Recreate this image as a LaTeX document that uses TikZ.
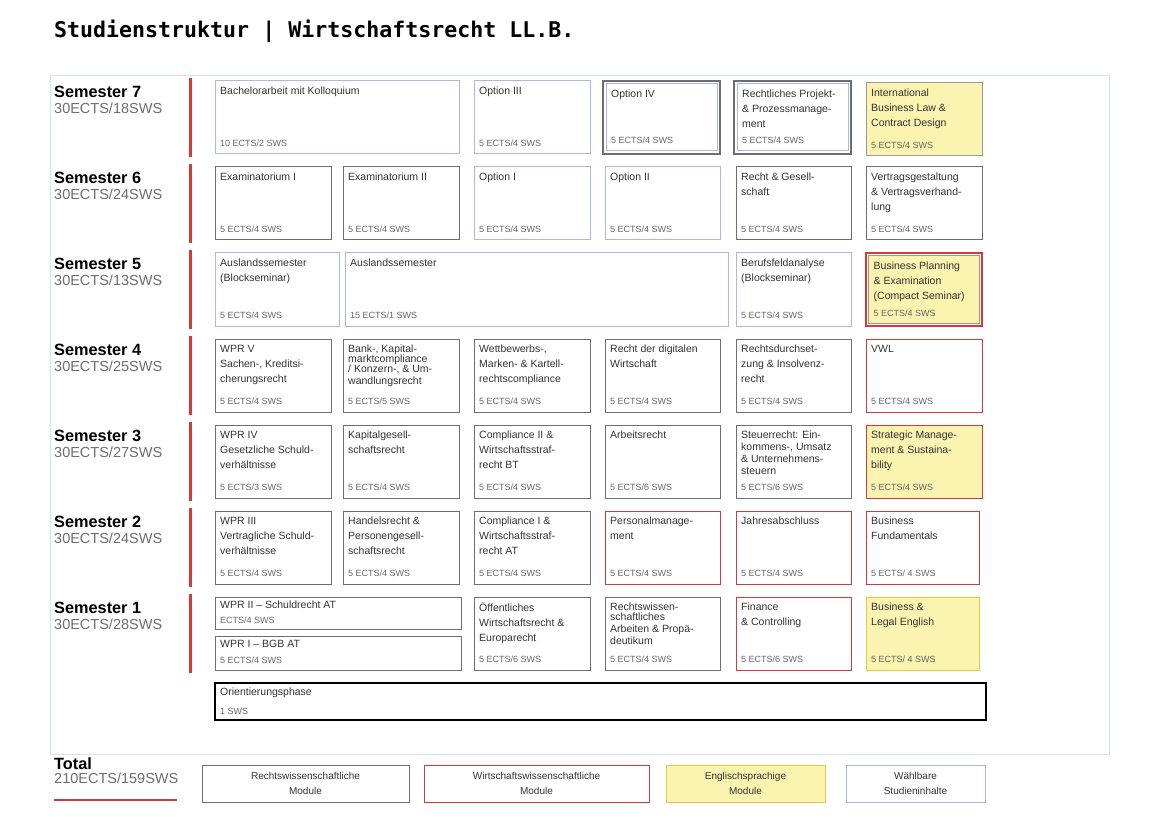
\documentclass[tikz,border=0pt]{standalone}
\usepackage{fontspec}
\setmainfont{Liberation Sans}
\newfontfamily\titlefont{DejaVu Sans Mono}
\definecolor{cgray}{HTML}{6E6E6E}
\definecolor{cblue}{HTML}{A9B8E6}
\definecolor{cred}{HTML}{D43A3A}
\definecolor{cyelf}{HTML}{FBF3B0}
\definecolor{cyelb}{HTML}{E6CC3A}
\definecolor{cframe}{HTML}{D6E2F2}
\definecolor{ctext}{HTML}{333333}
\definecolor{cects}{HTML}{666666}
\tikzset{
 gr/.style={draw=cgray,line width=1pt,fill=white},
 bl/.style={draw=cblue,line width=1pt,fill=white},
 rd/.style={draw=cred,line width=1pt,fill=white},
 rdy/.style={draw=cred,line width=1pt,fill=cyelf},
 gry/.style={draw=cgray!70,line width=1pt,fill=cyelf},
 yy/.style={draw=cyelb,line width=1pt,fill=cyelf},
 ttl/.style={anchor=north west,align=left,inner sep=0pt,font=\fontsize{10.5}{15}\selectfont,text=ctext},
 ects/.style={anchor=south west,inner sep=0pt,font=\fontsize{9}{11}\selectfont,text=cects},
 sem/.style={anchor=north west,inner sep=0pt,align=left,font=\fontsize{16.3}{17}\selectfont\bfseries},
 semsub/.style={anchor=north west,inner sep=0pt,font=\fontsize{14.5}{16}\selectfont,text=cgray},
 leg/.style={align=center,font=\fontsize{10}{15}\selectfont,text=ctext},
}
% \modbox{name}{x1}{y1}{x2}{y2}{style}{title}{ects}
\newcommand{\modbox}[8]{%
 \path[#6] (#2,#3) rectangle (#4,#5);
 \coordinate (#1) at (#2,#3);
 \node[ttl] (#1-t) at (#2+5,#3+6) {#7};
 \node[ects] (#1-e) at (#2+5,#5-7) {#8};
}
\begin{document}
\begin{tikzpicture}[x=1pt,y=-1pt]
\useasboundingbox[fill=white] (0,0) rectangle (1160,821);
\node[anchor=west,inner sep=0pt,font=\titlefont\bfseries\fontsize{21.6}{24}\selectfont] (title) at (54,31) {Studienstruktur | Wirtschaftsrecht LL.B.};
\draw[cframe,line width=1pt] (50,76) rectangle (1109,754);
% semester labels and red bars
\foreach \n/\y/\s in {7/81/18,6/167/24,5/253/13,4/339/25,3/425/27,2/511/24,1/597/28}{
 \node[sem] (s\n) at (54,\y+5) {Semester \n};
 \node[semsub] (ss\n) at (54,\y+22) {30ECTS/\s SWS};
 \fill[cred] (188.5,\y-3) rectangle (192,\y+76);
}
% Semester 7
\modbox{m71}{215}{81}{459}{154}{bl}{Bachelorarbeit mit Kolloquium}{10 ECTS/2 SWS}
\modbox{m73}{474}{81}{590}{154}{bl}{Option III}{5 ECTS/4 SWS}
\path[draw=cgray,line width=1.2pt] (603,81) rectangle (720,154);
\modbox{m74}{606}{84}{717}{151}{bl}{Option IV}{5 ECTS/4 SWS}
\path[draw=cgray,line width=1.2pt] (734,81) rectangle (851,154);
\modbox{m75}{737}{84}{848}{151}{bl}{Rechtliches Projekt-\\\& Prozessmanage-\\ment}{5 ECTS/4 SWS}
\modbox{m76}{866}{83}{982}{156}{gry}{International\\Business Law \&\\Contract Design}{5 ECTS/4 SWS}
% Semester 6
\modbox{m61}{215}{167}{331}{240}{gr}{Examinatorium I}{5 ECTS/4 SWS}
\modbox{m62}{343}{167}{459}{240}{gr}{Examinatorium II}{5 ECTS/4 SWS}
\modbox{m63}{474}{167}{590}{240}{bl}{Option I}{5 ECTS/4 SWS}
\modbox{m64}{605}{167}{720}{240}{bl}{Option II}{5 ECTS/4 SWS}
\modbox{m65}{736}{167}{851}{240}{gr}{Recht \& Gesell-\\schaft}{5 ECTS/4 SWS}
\modbox{m66}{866}{167}{982}{240}{gr}{Vertragsgestaltung\\\& Vertragsverhand-\\lung}{5 ECTS/4 SWS}
% Semester 5
\modbox{m51}{215}{253}{339}{326}{bl}{Auslandssemester\\(Blockseminar)}{5 ECTS/4 SWS}
\modbox{m52}{345}{253}{728}{326}{bl}{Auslandssemester}{15 ECTS/1 SWS}
\modbox{m53}{736}{253}{851}{326}{bl}{Berufsfeldanalyse\\(Blockseminar)}{5 ECTS/4 SWS}
\path[draw=cred,line width=1.2pt] (866,253) rectangle (982,326);
\modbox{m54}{868.5}{255.5}{979.5}{323.5}{gry}{Business Planning\\\& Examination\\(Compact Seminar)}{5 ECTS/4 SWS}
% Semester 4
\modbox{m41}{215}{339}{331}{412}{gr}{WPR V\\Sachen-, Kreditsi-\\cherungsrecht}{5 ECTS/4 SWS}
\modbox{m42}{343}{339}{459}{412}{gr}{Bank-, Kapital-\\[-5pt]marktcompliance\\[-5pt]/ Konzern-, \& Um-\\[-3pt]wandlungsrecht}{5 ECTS/5 SWS}
\modbox{m43}{474}{339}{590}{412}{gr}{Wettbewerbs-,\\Marken- \& Kartell-\\rechtscompliance}{5 ECTS/4 SWS}
\modbox{m44}{605}{339}{720}{412}{gr}{Recht der digitalen\\Wirtschaft}{5 ECTS/4 SWS}
\modbox{m45}{736}{339}{851}{412}{gr}{Rechtsdurchset-\\zung \& Insolvenz-\\recht}{5 ECTS/4 SWS}
\modbox{m46}{866}{339}{982}{412}{rd}{VWL}{5 ECTS/4 SWS}
% Semester 3
\modbox{m31}{215}{425}{331}{498}{gr}{WPR IV\\Gesetzliche Schuld-\\verhältnisse}{5 ECTS/3 SWS}
\modbox{m32}{343}{425}{459}{498}{gr}{Kapitalgesell-\\schaftsrecht}{5 ECTS/4 SWS}
\modbox{m33}{474}{425}{590}{498}{gr}{Compliance II \&\\Wirtschaftsstraf-\\recht BT}{5 ECTS/4 SWS}
\modbox{m34}{605}{425}{720}{498}{gr}{Arbeitsrecht}{5 ECTS/6 SWS}
\modbox{m35}{736}{425}{851}{498}{gr}{Steuerrecht: Ein-\\[-3pt]kommens-, Umsatz\\[-3pt]\& Unternehmens-\\[-3pt]steuern}{5 ECTS/6 SWS}
\modbox{m36}{866}{425}{982}{498}{rdy}{Strategic Manage-\\ment \& Sustaina-\\bility}{5 ECTS/4 SWS}
% Semester 2
\modbox{m21}{215}{511}{331}{584}{gr}{WPR III\\Vertragliche Schuld-\\verhältnisse}{5 ECTS/4 SWS}
\modbox{m22}{343}{511}{459}{584}{gr}{Handelsrecht \&\\Personengesell-\\schaftsrecht}{5 ECTS/4 SWS}
\modbox{m23}{474}{511}{590}{584}{gr}{Compliance I \&\\Wirtschaftsstraf-\\recht AT}{5 ECTS/4 SWS}
\modbox{m24}{605}{511}{720}{584}{rd}{Personalmanage-\\ment}{5 ECTS/4 SWS}
\modbox{m25}{736}{511}{851}{584}{rd}{Jahresabschluss}{5 ECTS/4 SWS}
\modbox{m26}{866}{511}{979}{584}{rd}{Business\\Fundamentals}{5 ECTS/ 4 SWS}
% Semester 1
\path[gr] (215,597) rectangle (461,629);
\node[ttl] (m11-t) at (220,601) {WPR II – Schuldrecht AT};
\node[ects] (m11-e) at (220,624) {ECTS/4 SWS};
\path[gr] (215,636) rectangle (461,670);
\node[ttl] (m12-t) at (220,640) {WPR I – BGB AT};
\node[ects] (m12-e) at (220,664) {5 ECTS/4 SWS};
\modbox{m13}{474}{597}{590}{670}{gr}{Öffentliches\\Wirtschaftsrecht \&\\Europarecht}{5 ECTS/6 SWS}
\modbox{m14}{605}{597}{720}{670}{gr}{Rechtswissen-\\[-5pt]schaftliches\\[-3pt]Arbeiten \& Propä-\\[-3pt]deutikum}{5 ECTS/4 SWS}
\modbox{m15}{736}{597}{851}{670}{rd}{Finance\\\& Controlling}{5 ECTS/6 SWS}
\modbox{m16}{866}{597}{979}{670}{yy}{Business \&\\Legal English}{5 ECTS/ 4 SWS}
% Orientierungsphase
\path[draw=black,line width=1.3pt] (215,683) rectangle (986,720);
\node[ttl] (o-t) at (220,688) {Orientierungsphase};
\node[ects] (o-e) at (220,715) {1 SWS};
% Total and legend
\node[sem] (tot) at (54,757) {Total};
\node[semsub] (tots) at (54,773) {210ECTS/159SWS};
\draw[cred,line width=1.2pt] (54,800) -- (177,800);
\node[gr,leg,minimum width=207pt,minimum height=37pt] (l1) at (305.5,783.5) {Rechtswissenschaftliche\\Module};
\node[rd,leg,minimum width=225pt,minimum height=37pt] (l2) at (536.5,783.5) {Wirtschaftswissenschaftliche\\Module};
\node[yy,leg,minimum width=159pt,minimum height=37pt] (l3) at (745.5,783.5) {Englischsprachige\\Module};
\node[bl,leg,minimum width=139pt,minimum height=37pt] (l4) at (915.5,783.5) {Wählbare\\Studieninhalte};
\end{tikzpicture}
\end{document}
